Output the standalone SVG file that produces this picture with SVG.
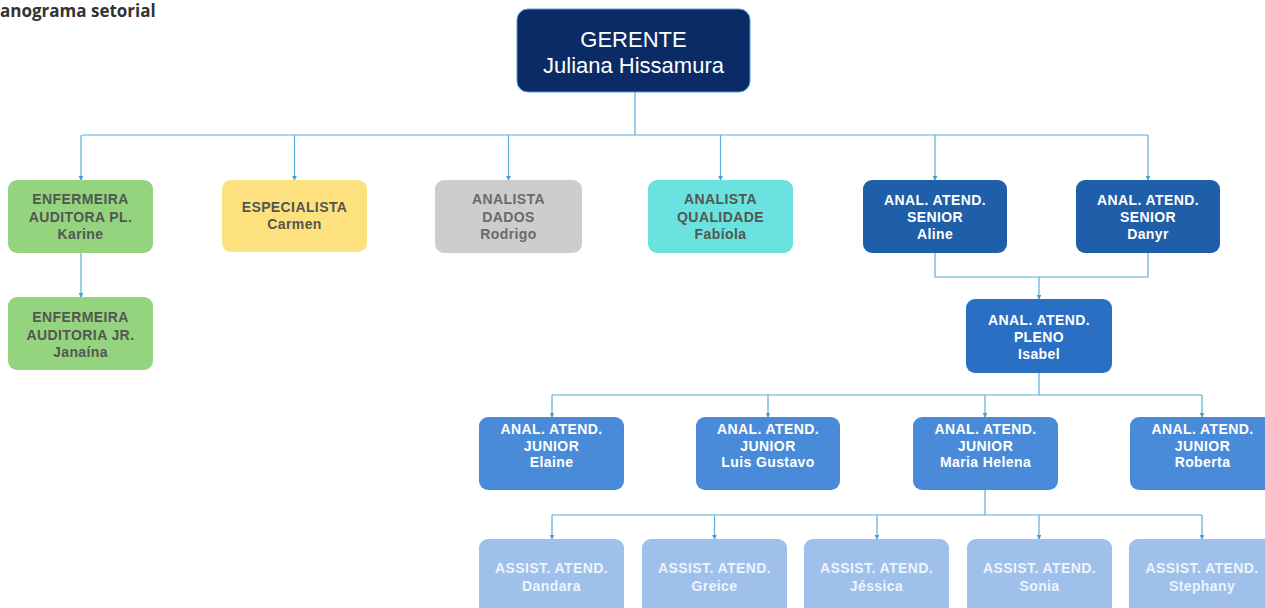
<svg xmlns="http://www.w3.org/2000/svg" width="1265" height="608" viewBox="0 0 1265 608">
<style>
.t{font-family:"Liberation Sans",Arial,sans-serif;font-weight:bold;font-size:14px;letter-spacing:0.4px;text-anchor:middle}
.dk{fill:#525752}
.gy{fill:#6a6a6a}
.w{fill:#ffffff}
.lw{fill:#eef4fc}
.c{fill:none;stroke:#5aaedc;stroke-width:1.2}
.a{marker-end:url(#ar)}
.g{font-family:"Liberation Sans",Arial,sans-serif;font-size:22px;fill:#ffffff;text-anchor:middle}
</style>
<defs>
<marker id="ar" viewBox="0 0 6 6" refX="5" refY="3" markerWidth="4" markerHeight="4" orient="auto">
<path d="M0,0 L6,3 L0,6 z" fill="#4a9fd0"/>
</marker>
</defs>
<rect width="1265" height="608" fill="#ffffff"/>
<text x="0" y="17" font-family="'Open Sans','Liberation Sans',sans-serif" font-weight="bold" font-size="17" fill="#333">anograma setorial</text>
<g id="connectors">
<path class="c" d="M635,92 V135 M82,135 H1148"/>
<path class="c a" d="M81,135 V180"/>
<path class="c a" d="M294.5,135 V180"/>
<path class="c a" d="M508.5,135 V180"/>
<path class="c a" d="M720.5,135 V180"/>
<path class="c a" d="M935,135 V180"/>
<path class="c a" d="M1148,135 V180"/>
<path class="c a" d="M81,253 V297"/>
<path class="c" d="M935,253 V277 H1148 V253"/>
<path class="c a" d="M1039,277 V299"/>
<path class="c" d="M1039,373 V395 M552,395 H1202"/>
<path class="c a" d="M552,395 V417"/>
<path class="c a" d="M768,395 V417"/>
<path class="c a" d="M985,395 V417"/>
<path class="c a" d="M1202,395 V417"/>
<path class="c" d="M985,490 V515 M552,515 H1202"/>
<path class="c a" d="M552,515 V539"/>
<path class="c a" d="M714.5,515 V539"/>
<path class="c a" d="M877,515 V539"/>
<path class="c a" d="M1039,515 V539"/>
<path class="c a" d="M1202,515 V539"/>
</g>
<g id="gerente">
<rect x="517" y="9" width="233" height="83" rx="11" fill="#0b2b66" stroke="#4a9fd8" stroke-width="1"/>
<text class="g" x="633.5" y="47">GERENTE</text>
<text class="g" x="633.5" y="73">Juliana Hissamura</text>
</g>
<g id="karine">
<rect x="8" y="180" width="145" height="73" rx="9" fill="#95d47f"/>
<text class="t dk" x="80.5" y="204">ENFERMEIRA</text>
<text class="t dk" x="80.5" y="221.5">AUDITORA PL.</text>
<text class="t dk" x="80.5" y="239">Karine</text>
</g>
<g id="janaina">
<rect x="8" y="297" width="145" height="73" rx="9" fill="#95d47f"/>
<text class="t dk" x="80.5" y="322">ENFERMEIRA</text>
<text class="t dk" x="80.5" y="339.5">AUDITORIA JR.</text>
<text class="t dk" x="80.5" y="357">Janaína</text>
</g>
<g id="carmen">
<rect x="222" y="180" width="145" height="72" rx="9" fill="#fde17e"/>
<text class="t dk" x="294.5" y="212">ESPECIALISTA</text>
<text class="t dk" x="294.5" y="229">Carmen</text>
</g>
<g id="rodrigo">
<rect x="435" y="180" width="147" height="73" rx="9" fill="#cdcdcd"/>
<text class="t gy" x="508.5" y="204">ANALISTA</text>
<text class="t gy" x="508.5" y="221.5">DADOS</text>
<text class="t gy" x="508.5" y="239">Rodrigo</text>
</g>
<g id="fabiola">
<rect x="648" y="180" width="145" height="73" rx="9" fill="#6ae3e0"/>
<text class="t dk" x="720.5" y="204">ANALISTA</text>
<text class="t dk" x="720.5" y="221.5">QUALIDADE</text>
<text class="t dk" x="720.5" y="239">Fabíola</text>
</g>
<g id="aline">
<rect x="863" y="180" width="144" height="73" rx="9" fill="#1f5ea8"/>
<text class="t w" x="935" y="204.5">ANAL. ATEND.</text>
<text class="t w" x="935" y="221.5">SENIOR</text>
<text class="t w" x="935" y="238.5">Aline</text>
</g>
<g id="danyr">
<rect x="1076" y="180" width="144" height="73" rx="9" fill="#1f5ea8"/>
<text class="t w" x="1148" y="204.5">ANAL. ATEND.</text>
<text class="t w" x="1148" y="221.5">SENIOR</text>
<text class="t w" x="1148" y="238.5">Danyr</text>
</g>
<g id="isabel">
<rect x="966" y="299" width="146" height="74" rx="9" fill="#2a6fc4"/>
<text class="t w" x="1039" y="325">ANAL. ATEND.</text>
<text class="t w" x="1039" y="342">PLENO</text>
<text class="t w" x="1039" y="359">Isabel</text>
</g>
<g id="elaine">
<rect x="479" y="417" width="145" height="73" rx="9" fill="#4a8bd9"/>
<text class="t w" x="551.5" y="434">ANAL. ATEND.</text>
<text class="t w" x="551.5" y="450.5">JUNIOR</text>
<text class="t w" x="551.5" y="467">Elaine</text>
</g>
<g id="luis">
<rect x="696" y="417" width="144" height="73" rx="9" fill="#4a8bd9"/>
<text class="t w" x="768" y="434">ANAL. ATEND.</text>
<text class="t w" x="768" y="450.5">JUNIOR</text>
<text class="t w" x="768" y="467">Luis Gustavo</text>
</g>
<g id="maria">
<rect x="913" y="417" width="145" height="73" rx="9" fill="#4a8bd9"/>
<text class="t w" x="985.5" y="434">ANAL. ATEND.</text>
<text class="t w" x="985.5" y="450.5">JUNIOR</text>
<text class="t w" x="985.5" y="467">Maria Helena</text>
</g>
<g id="roberta">
<rect x="1130" y="417" width="145" height="73" rx="9" fill="#4a8bd9"/>
<text class="t w" x="1202.5" y="434">ANAL. ATEND.</text>
<text class="t w" x="1202.5" y="450.5">JUNIOR</text>
<text class="t w" x="1202.5" y="467">Roberta</text>
</g>
<g id="dandara">
<rect x="479" y="539" width="145" height="80" rx="9" fill="#9ec0ea"/>
<text class="t lw" x="551.5" y="573">ASSIST. ATEND.</text>
<text class="t lw" x="551.5" y="590.5">Dandara</text>
</g>
<g id="greice">
<rect x="642" y="539" width="145" height="80" rx="9" fill="#9ec0ea"/>
<text class="t lw" x="714.5" y="573">ASSIST. ATEND.</text>
<text class="t lw" x="714.5" y="590.5">Greice</text>
</g>
<g id="jessica">
<rect x="804" y="539" width="145" height="80" rx="9" fill="#9ec0ea"/>
<text class="t lw" x="876.5" y="573">ASSIST. ATEND.</text>
<text class="t lw" x="876.5" y="590.5">Jéssica</text>
</g>
<g id="sonia">
<rect x="967" y="539" width="145" height="80" rx="9" fill="#9ec0ea"/>
<text class="t lw" x="1039.5" y="573">ASSIST. ATEND.</text>
<text class="t lw" x="1039.5" y="590.5">Sonia</text>
</g>
<g id="stephany">
<rect x="1129" y="539" width="146" height="80" rx="9" fill="#9ec0ea"/>
<text class="t lw" x="1202" y="573">ASSIST. ATEND.</text>
<text class="t lw" x="1202" y="590.5">Stephany</text>
</g>
</svg>
